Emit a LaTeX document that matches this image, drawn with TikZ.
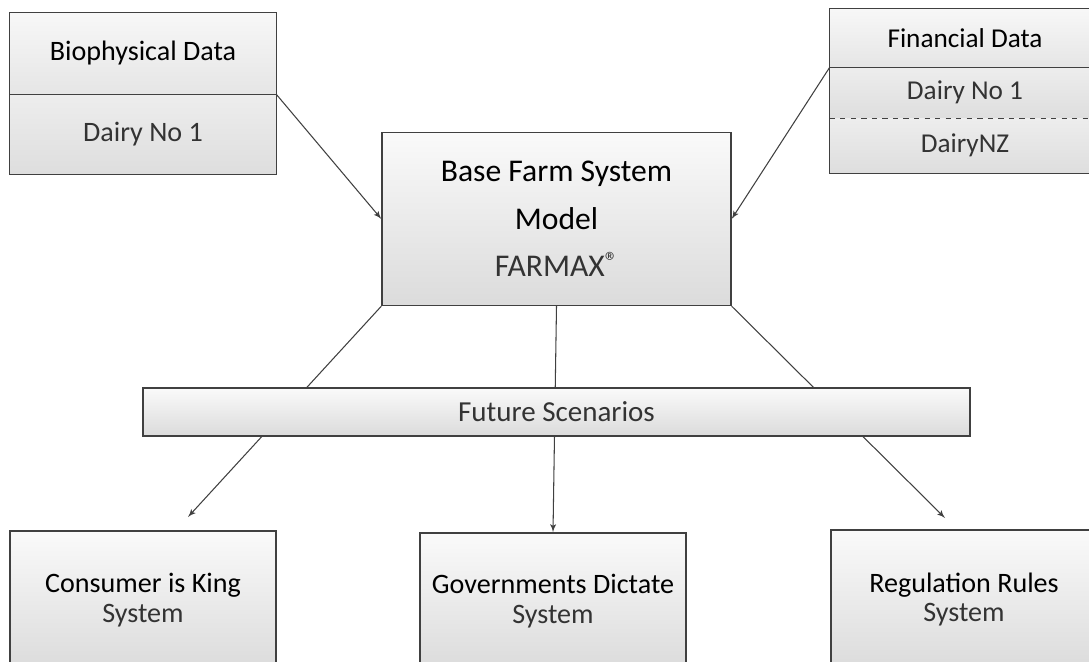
\documentclass[tikz,border=0pt]{standalone}
\usepackage{fontspec}
\setmainfont{Carlito}
\usetikzlibrary{positioning,arrows,calc}
\newcommand\bigfont{\fontsize{18}{27}\selectfont}
\newcommand\midfont{\fontsize{16}{17}\selectfont}
\newcommand\smallfont{\fontsize{15.5}{17}\selectfont}
\newcommand\light{\color{black!80}}
\tikzset{
    x=0.02cm,
    y=-0.02cm,
    box/.style = {
        draw=black!75,
        shape=rectangle,
        line width=0.8pt,
        top color=gray!4,
        bottom color=gray!28,
        inner sep=0pt,
        align=center
    },
    part/.style = {
        shape=rectangle,
        top color=gray!6,
        bottom color=gray!20,
        inner sep=0pt,
        align=center
    },
    partdark/.style = {
        shape=rectangle,
        top color=gray!14,
        bottom color=gray!26,
        inner sep=0pt,
        align=center
    },
    frame/.style = {
        draw=black!75,
        line width=0.8pt
    },
    link/.style = {
        draw=black!75,
        line width=0.6pt
    },
    >=latex',
}
\begin{document}
\begin{tikzpicture}
                \useasboundingbox (0,0) rectangle (1089,662);

                % data sources
                \node[part, font=\midfont, minimum width=5.32cm, minimum height=1.62cm] (bioHead) at (143,53.5) {Biophysical Data};
                \node[partdark, font=\midfont, minimum width=5.32cm, minimum height=1.60cm] (bioBody) at (143,134) {\light Dairy No 1};
                \path[frame] (bioHead.north west) rectangle (bioBody.south east);
                \path[frame] (bioHead.south west) -- (bioHead.south east);

                \node[part, font=\smallfont, minimum width=5.4cm, minimum height=1.16cm] (finHead) at (965,38) {Financial Data};
                \node[partdark, font=\smallfont, minimum width=5.4cm, minimum height=1.02cm] (finOne) at (965,92.5) {\light Dairy No 1};
                \node[partdark, font=\smallfont, minimum width=5.4cm, minimum height=1.10cm] (finTwo) at (965,145.5) {\light DairyNZ};
                \path[frame] (finHead.north west) rectangle (finTwo.south east);
                \path[frame] (finHead.south west) -- (finHead.south east);
                \path[draw=black!75, line width=0.5pt, dashed] (finOne.south west) -- (finOne.south east);

                % model
                \node[box, font=\bigfont, minimum width=6.98cm, minimum height=3.46cm] (base) at (556.5,219)
                    {Base Farm System\\ Model\\ \light FARMAX\raisebox{0.42ex}{\fontsize{15}{15}\selectfont ®}};

                % scenarios
                \node[box, font=\midfont, minimum width=5.32cm, minimum height=2.76cm] (consumer) at (143,600)
                    {Consumer is King\\ \light System};
                \node[box, font=\midfont, minimum width=5.32cm, minimum height=2.72cm] (govern) at (553,601)
                    {Governments Dictate\\ \light System};
                \node[box, font=\midfont, minimum width=5.32cm, minimum height=2.78cm] (regul) at (964,599.5)
                    {Regulation Rules\\ \light System};

                \coordinate (consumerTip) at (188,517);
                \coordinate (regulTip) at (945,518);

                \path[link, ->] (bioHead.south east) -- (base.west);
                \path[link, ->] (finHead.south west) -- (base.east);
                \path[link, ->] (base.south west) -- (consumerTip);
                \path[link, ->] (base.south) -- (govern.north);
                \path[link, ->] (base.south east) -- (regulTip);

                \node[box, font=\fontsize{16.5}{18}\selectfont, minimum width=16.54cm, minimum height=0.96cm] (future) at (556.5,412) {\light Future Scenarios};
            \end{tikzpicture}
\end{document}
